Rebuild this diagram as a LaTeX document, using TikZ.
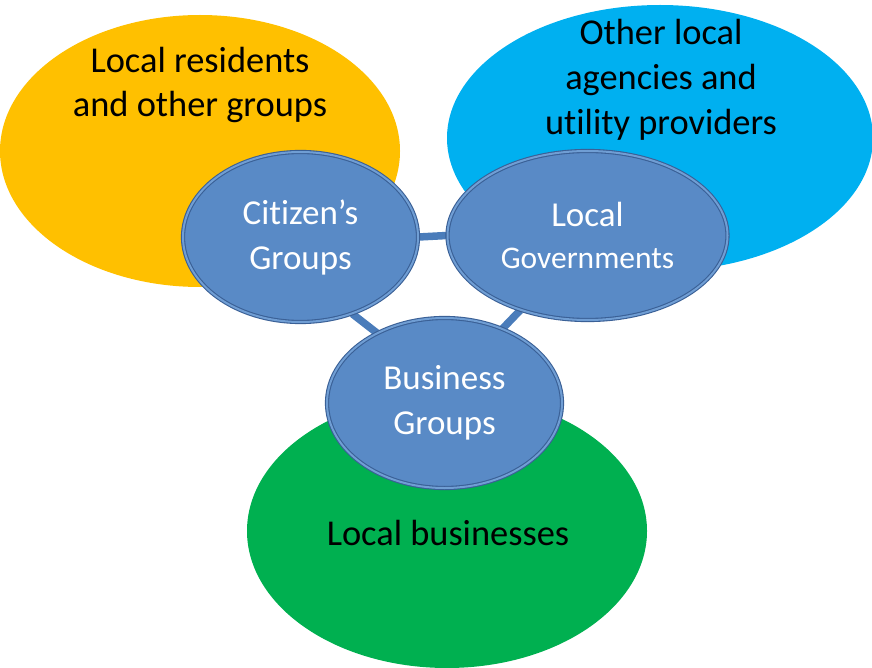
\documentclass[tikz,border=0pt]{standalone}
\usepackage{fontspec}
\setmainfont{Carlito}[Ligatures={NoCommon}]
\usetikzlibrary{shapes.geometric}
\definecolor{cyellow}{RGB}{255,192,0}
\definecolor{cblue}{RGB}{0,176,240}
\definecolor{cgreen}{RGB}{0,176,80}
\definecolor{nodefill}{RGB}{89,138,198}
\definecolor{nodeedge}{RGB}{58,96,150}
\definecolor{noderim}{RGB}{112,158,212}
\definecolor{linkc}{RGB}{74,124,186}
\pgfdeclarelayer{back}
\pgfdeclarelayer{links}
\pgfsetlayers{back,links,main}
\begin{document}
\begin{tikzpicture}[x=1pt,y=-1pt,
  big/.style={ellipse, inner sep=0pt, draw=none},
  hub/.style={ellipse, inner sep=0pt, fill=nodefill, draw=nodeedge, line width=1.1pt,
    double=noderim, double distance=2pt, text=white, align=center,
    font=\fontsize{35}{45}\selectfont},
  lbl/.style={align=center, text=black, inner sep=0pt, font=\fontsize{36.4}{44.8}\selectfont},
  link/.style={draw=linkc, line width=7.5pt}]
\useasboundingbox (0,0) rectangle (872,668);
% hubs
\node[hub, minimum width=235pt, minimum height=170pt] (cit) at (300.5,237) {Citizen’s\\Groups};
\node[hub, minimum width=280pt, minimum height=169pt] (gov) at (587.5,235.5) {Local\\[-3pt]{\fontsize{31.5}{40}\selectfont Governments}};
\node[hub, minimum width=235pt, minimum height=170pt] (bus) at (444.5,403) {Business\\Groups};
\begin{pgfonlayer}{back}
\node[big, fill=cyellow, minimum width=400pt, minimum height=272pt] (res) at (200,151) {};
\node[big, fill=cblue, minimum width=426pt, minimum height=266pt] (agn) at (660,138) {};
\node[big, fill=cgreen, minimum width=400pt, minimum height=274pt] (bizz) at (447,531) {};
\node[lbl] (restxt) at (200,85) {Local residents\\and other groups};
\node[lbl] (agntxt) at (661,80) {Other local\\agencies and\\utility providers};
\node[lbl] (biztxt) at (448,533) {Local businesses};
\end{pgfonlayer}
\begin{pgfonlayer}{links}
\draw[link] (cit.east) -- (gov.west);
\draw[link] (cit.-56) -- (bus.134);
\draw[link] (gov.-132) -- (bus.52);
\end{pgfonlayer}
\end{tikzpicture}
\end{document}
